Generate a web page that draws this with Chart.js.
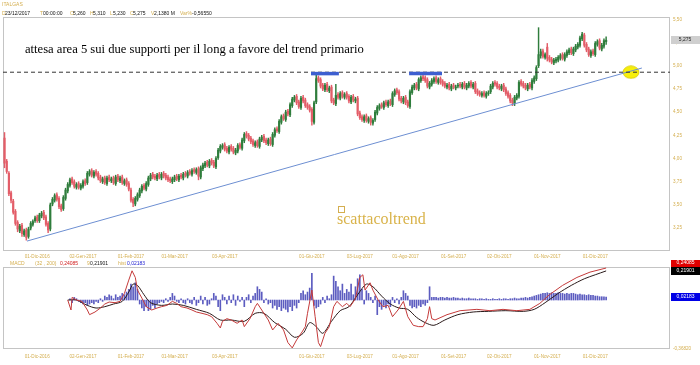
<!DOCTYPE html>
<html><head><meta charset="utf-8">
<script src="https://cdn.jsdelivr.net/npm/chart.js@4"></script>
<style>
body{margin:0;background:#fff;}
#wrap{position:relative;width:700px;height:365px;overflow:hidden;background:#fff;font-family:"Liberation Sans",Arial,sans-serif;}
canvas{position:absolute;left:0;}
.t{position:absolute;white-space:nowrap;line-height:1;font-size:5px;}
.g{color:#d4ae4f}
.k{color:#111}
</style></head><body>
<div id="wrap">
<canvas id="pc" width="700" height="265" style="top:0"></canvas>
<canvas id="mc" width="700" height="105" style="top:260px"></canvas>
<div class="t g" style="left:2px;top:2px;">ITALGAS</div>
<div class="t g" style="left:2px;top:11px;">D</div><div class="t k" style="left:5px;top:11px;">23/12/2017</div>
<div class="t g" style="left:40px;top:11px;">T</div><div class="t k" style="left:43px;top:11px;">00:00:00</div>
<div class="t g" style="left:70px;top:11px;">O</div><div class="t k" style="left:73px;top:11px;">5,260</div>
<div class="t g" style="left:90px;top:11px;">H</div><div class="t k" style="left:93px;top:11px;">5,310</div>
<div class="t g" style="left:110px;top:11px;">L</div><div class="t k" style="left:113px;top:11px;">5,230</div>
<div class="t g" style="left:130px;top:11px;">C</div><div class="t k" style="left:133px;top:11px;">5,275</div>
<div class="t g" style="left:151px;top:11px;">V</div><div class="t k" style="left:154px;top:11px;">2,1380 M</div>
<div class="t g" style="left:180px;top:11px;">Var%</div><div class="t k" style="left:192px;top:11px;">-0,56550</div>
<div class="t g" style="left:10px;top:261px;">MACD</div>
<div class="t g" style="left:35px;top:261px;">(32 , 200)</div>
<div class="t" style="left:60px;top:261px;color:#d01818">0,24085</div>
<div class="t g" style="left:87px;top:261px;">9</div>
<div class="t k" style="left:90px;top:261px;">0,21901</div>
<div class="t g" style="left:118px;top:261px;">hist</div>
<div class="t" style="left:127px;top:261px;color:#1a1ad0">0,02183</div>
<div class="t" style="left:25px;top:43px;font-family:'Liberation Serif','Times New Roman',serif;font-size:12.6px;color:#000">attesa area 5 sui due supporti per il long a favore del trend primario</div>
<div style="position:absolute;left:338px;top:206px;width:5px;height:5px;border:1px solid #d4ae4f;"></div>
<div class="t" style="left:337px;top:211px;font-family:'Liberation Serif','Times New Roman',serif;font-size:16px;color:#d9b34a">scattacoltrend</div>
</div>
<script>
const tickIdx = [15,36,58,78,101,141,163,184,206,227,249,271];
const tickLabels = ["01-Dic-2016","02-Gen-2017","01-Feb-2017","01-Mar-2017","03-Apr-2017","01-Giu-2017","03-Lug-2017","01-Ago-2017","01-Set-2017","02-Ott-2017","01-Nov-2017","01-Dic-2017"];
const priceTicks = [3.25,3.50,3.75,4.00,4.25,4.50,4.75,5.00,5.25,5.50];

const opens = [4.22,3.97,3.84,3.63,3.54,3.43,3.31,3.22,3.28,3.18,
3.23,3.16,3.25,3.29,3.33,3.37,3.33,3.38,3.42,3.37,
3.30,3.24,3.51,3.55,3.61,3.57,3.49,3.46,3.57,3.65,
3.71,3.78,3.75,3.69,3.73,3.68,3.70,3.76,3.74,3.83,
3.87,3.81,3.86,3.84,3.80,3.75,3.79,3.73,3.80,3.76,
3.79,3.73,3.81,3.76,3.80,3.73,3.77,3.73,3.66,3.56,
3.51,3.56,3.60,3.65,3.71,3.67,3.72,3.78,3.83,3.81,
3.78,3.83,3.79,3.84,3.82,3.80,3.78,3.75,3.77,3.81,
3.77,3.82,3.79,3.84,3.81,3.86,3.83,3.88,3.85,3.89,
3.80,3.89,3.92,3.96,3.92,3.98,3.96,3.91,4.01,4.08,
4.12,4.15,4.11,4.07,4.13,4.11,4.06,4.08,4.15,4.11,
4.19,4.27,4.25,4.22,4.19,4.14,4.18,4.13,4.20,4.24,
4.20,4.16,4.21,4.15,4.25,4.32,4.29,4.39,4.46,4.42,
4.51,4.47,4.57,4.63,4.67,4.61,4.55,4.66,4.63,4.58,
4.56,4.53,4.39,4.61,4.87,4.85,4.79,4.74,4.80,4.73,
4.77,4.63,4.59,4.69,4.65,4.71,4.66,4.70,4.67,4.61,
4.67,4.62,4.65,4.49,4.45,4.41,4.46,4.40,4.44,4.38,
4.42,4.49,4.54,4.58,4.55,4.61,4.57,4.62,4.58,4.69,
4.74,4.72,4.65,4.61,4.66,4.61,4.56,4.71,4.76,4.80,
4.75,4.84,4.88,4.87,4.85,4.77,4.80,4.83,4.87,4.82,
4.86,4.83,4.81,4.77,4.80,4.75,4.79,4.76,4.78,4.80,
4.77,4.81,4.76,4.78,4.82,4.77,4.81,4.73,4.71,4.68,
4.71,4.67,4.70,4.72,4.77,4.82,4.81,4.78,4.75,4.79,
4.75,4.71,4.68,4.63,4.59,4.65,4.67,4.83,4.81,4.79,
4.75,4.80,4.76,4.83,4.86,5.00,5.11,5.16,5.09,5.20,
5.09,5.07,5.03,5.05,5.06,5.08,5.12,5.07,5.11,5.14,
5.18,5.13,5.17,5.20,5.22,5.29,5.33,5.23,5.18,5.11,
5.16,5.12,5.23,5.27,5.18,5.21,5.26];

const highs = [4.28,3.99,3.86,3.65,3.56,3.45,3.33,3.29,3.30,3.24,
3.25,3.26,3.32,3.34,3.38,3.39,3.41,3.43,3.44,3.39,
3.32,3.52,3.58,3.62,3.63,3.59,3.51,3.60,3.68,3.74,
3.79,3.80,3.77,3.74,3.75,3.73,3.77,3.78,3.86,3.88,
3.89,3.87,3.88,3.86,3.82,3.80,3.81,3.81,3.82,3.80,
3.81,3.82,3.83,3.81,3.82,3.78,3.79,3.75,3.68,3.58,
3.59,3.63,3.68,3.72,3.73,3.75,3.81,3.84,3.85,3.83,
3.84,3.85,3.85,3.86,3.84,3.82,3.80,3.80,3.82,3.83,
3.83,3.84,3.85,3.86,3.87,3.88,3.89,3.90,3.90,3.91,
3.92,3.95,3.97,3.98,3.99,4.00,3.98,4.02,4.11,4.15,
4.16,4.17,4.13,4.14,4.15,4.13,4.11,4.16,4.17,4.22,
4.28,4.29,4.27,4.24,4.21,4.19,4.20,4.23,4.25,4.26,
4.22,4.22,4.23,4.28,4.33,4.34,4.42,4.47,4.48,4.52,
4.53,4.60,4.66,4.68,4.69,4.63,4.67,4.68,4.65,4.60,
4.58,4.55,4.62,4.92,4.89,4.87,4.81,4.81,4.82,4.78,
4.79,4.65,4.80,4.71,4.72,4.73,4.71,4.72,4.69,4.68,
4.69,4.66,4.67,4.51,4.47,4.47,4.48,4.45,4.46,4.43,
4.52,4.57,4.59,4.60,4.62,4.63,4.63,4.64,4.72,4.75,
4.76,4.74,4.67,4.67,4.68,4.63,4.74,4.79,4.81,4.82,
4.87,4.89,4.90,4.89,4.87,4.83,4.86,4.88,4.89,4.87,
4.88,4.85,4.83,4.81,4.82,4.80,4.81,4.79,4.81,4.82,
4.82,4.83,4.81,4.83,4.84,4.82,4.83,4.75,4.73,4.72,
4.73,4.72,4.73,4.80,4.83,4.84,4.83,4.80,4.80,4.81,
4.77,4.73,4.70,4.65,4.68,4.70,4.84,4.85,4.83,4.81,
4.81,4.82,4.86,4.89,5.00,5.41,5.18,5.18,5.14,5.24,
5.11,5.09,5.08,5.09,5.11,5.13,5.14,5.14,5.17,5.19,
5.20,5.20,5.23,5.25,5.32,5.36,5.35,5.25,5.20,5.17,
5.18,5.26,5.28,5.29,5.24,5.29,5.31];

const lows = [3.90,3.84,3.60,3.52,3.40,3.28,3.21,3.20,3.16,3.16,
3.12,3.14,3.23,3.27,3.31,3.31,3.31,3.36,3.34,3.27,
3.20,3.22,3.49,3.53,3.54,3.46,3.43,3.44,3.55,3.63,
3.69,3.72,3.68,3.67,3.67,3.66,3.68,3.71,3.72,3.81,
3.80,3.79,3.81,3.77,3.74,3.73,3.72,3.71,3.75,3.74,
3.72,3.71,3.75,3.74,3.72,3.71,3.70,3.65,3.53,3.48,
3.49,3.54,3.58,3.63,3.66,3.65,3.70,3.76,3.78,3.77,
3.76,3.78,3.77,3.79,3.77,3.75,3.74,3.73,3.75,3.76,
3.75,3.78,3.77,3.80,3.79,3.82,3.81,3.84,3.83,3.77,
3.78,3.87,3.90,3.91,3.90,3.93,3.90,3.89,3.99,4.06,
4.10,4.08,4.06,4.05,4.08,4.05,4.04,4.06,4.10,4.09,
4.17,4.22,4.19,4.16,4.13,4.12,4.12,4.11,4.18,4.17,
4.15,4.14,4.14,4.13,4.23,4.28,4.27,4.37,4.41,4.40,
4.46,4.45,4.55,4.61,4.58,4.54,4.53,4.60,4.55,4.53,
4.50,4.36,4.37,4.59,4.82,4.76,4.73,4.72,4.72,4.71,
4.60,4.58,4.57,4.64,4.63,4.65,4.64,4.64,4.60,4.59,
4.61,4.60,4.46,4.42,4.40,4.39,4.39,4.38,4.36,4.36,
4.40,4.47,4.52,4.54,4.53,4.56,4.55,4.57,4.56,4.67,
4.69,4.62,4.60,4.59,4.58,4.55,4.54,4.69,4.74,4.74,
4.73,4.82,4.84,4.82,4.76,4.75,4.78,4.81,4.81,4.80,
4.80,4.78,4.76,4.75,4.74,4.73,4.75,4.74,4.76,4.76,
4.75,4.75,4.74,4.76,4.76,4.75,4.70,4.68,4.67,4.66,
4.66,4.65,4.68,4.70,4.75,4.78,4.75,4.74,4.73,4.72,
4.68,4.65,4.60,4.57,4.57,4.63,4.65,4.78,4.76,4.74,
4.73,4.75,4.74,4.81,4.84,4.98,5.08,5.08,5.07,5.05,
5.04,5.02,5.01,5.03,5.04,5.06,5.06,5.05,5.09,5.12,
5.12,5.11,5.15,5.18,5.20,5.27,5.20,5.15,5.10,5.09,
5.11,5.10,5.21,5.17,5.16,5.19,5.23];

const closes = [3.95,3.86,3.62,3.55,3.42,3.30,3.24,3.27,3.19,3.22,
3.15,3.24,3.30,3.32,3.36,3.33,3.39,3.41,3.36,3.29,
3.23,3.50,3.56,3.60,3.56,3.48,3.45,3.58,3.66,3.72,
3.77,3.74,3.70,3.72,3.69,3.71,3.75,3.73,3.84,3.86,
3.82,3.85,3.83,3.79,3.76,3.78,3.74,3.79,3.77,3.78,
3.74,3.80,3.77,3.79,3.74,3.76,3.72,3.67,3.55,3.52,
3.57,3.61,3.66,3.70,3.68,3.73,3.79,3.82,3.80,3.79,
3.82,3.80,3.83,3.81,3.79,3.77,3.76,3.78,3.80,3.78,
3.81,3.80,3.83,3.82,3.85,3.84,3.87,3.86,3.88,3.81,
3.90,3.93,3.95,3.93,3.97,3.95,3.92,4.00,4.09,4.13,
4.14,4.10,4.08,4.12,4.10,4.07,4.09,4.14,4.12,4.20,
4.26,4.24,4.21,4.18,4.15,4.17,4.14,4.21,4.23,4.19,
4.17,4.20,4.16,4.26,4.31,4.30,4.40,4.45,4.43,4.50,
4.48,4.58,4.64,4.66,4.60,4.56,4.65,4.62,4.57,4.55,
4.52,4.40,4.60,4.86,4.84,4.78,4.75,4.79,4.74,4.76,
4.62,4.60,4.68,4.66,4.70,4.67,4.69,4.66,4.62,4.66,
4.63,4.64,4.48,4.44,4.42,4.45,4.41,4.43,4.39,4.41,
4.50,4.55,4.57,4.56,4.60,4.58,4.61,4.59,4.70,4.73,
4.71,4.64,4.62,4.65,4.60,4.57,4.72,4.77,4.79,4.76,
4.85,4.87,4.86,4.84,4.78,4.81,4.84,4.86,4.83,4.85,
4.82,4.80,4.78,4.79,4.76,4.78,4.77,4.77,4.79,4.78,
4.80,4.77,4.79,4.81,4.78,4.80,4.72,4.70,4.69,4.70,
4.68,4.70,4.71,4.78,4.81,4.80,4.77,4.76,4.78,4.74,
4.70,4.67,4.62,4.60,4.66,4.68,4.82,4.80,4.78,4.76,
4.79,4.77,4.84,4.87,4.98,5.12,5.15,5.10,5.12,5.08,
5.06,5.04,5.06,5.07,5.09,5.11,5.08,5.12,5.15,5.17,
5.14,5.18,5.21,5.23,5.30,5.34,5.22,5.17,5.12,5.15,
5.13,5.24,5.26,5.19,5.22,5.27,5.275];

// trend / support annotations (index, price)
const trendX = [10.3, 292.4];
const trendY = [3.11, 4.975];
const supportLevel = 4.93;
const zoneA = [140.6, 153.4];
const zoneB = [185.6, 200.7];
const zoneLevel = 4.915;
const targetPoint = [287.4, 4.93];

// MACD panel
const histStart = 30;
const histVals = [0.01,-0.02,0.02,0.01,-0.01,
-0.02,-0.03,-0.02,-0.04,-0.03,-0.02,-0.03,-0.01,-0.02,0.01,-0.01,
0.03,0.02,0.04,0.03,0.01,0.04,0.02,
0.03,0.05,0.04,0.06,0.08,
0.12,0.10,0.13,0.08,
-0.03,-0.06,-0.08,-0.05,-0.08,-0.07,-0.04,-0.06,-0.03,
-0.02,-0.01,-0.02,0.01,-0.01,0.02,
0.05,0.03,
-0.01,-0.02,0.01,-0.02,-0.03,0.01,-0.02,-0.03,0.02,-0.04,-0.02,0.03,-0.03,0.02,-0.04,-0.03,0.01,
0.05,0.03,-0.05,-0.08,0.04,
0.02,-0.03,0.03,-0.02,0.04,-0.04,0.03,-0.01,0.02,-0.05,0.02,0.04,-0.02,0.03,0.05,
0.10,0.08,0.06,
-0.02,0.01,-0.03,-0.02,
-0.06,-0.04,-0.07,-0.05,-0.08,-0.06,-0.07,-0.09,-0.05,-0.08,-0.04,-0.06,-0.02,
0.05,0.07,0.04,0.06,0.09,
0.20,
-0.04,-0.06,-0.05,-0.03,
0.02,-0.02,0.03,0.01,0.04,
0.18,0.14,
0.10,0.07,0.12,0.05,0.08,
0.06,0.12,0.04,0.10,0.16,0.19,0.08,-0.03,
0.07,0.05,0.02,-0.02,0.03,
-0.11,-0.05,-0.07,-0.04,-0.06,-0.03,-0.05,
0.02,-0.02,0.01,-0.03,0.02,
0.07,0.05,0.03,
-0.04,-0.06,-0.05,-0.06,-0.04,-0.05,-0.03,-0.04,-0.02,
0.10,
0.02,0.02,0.02,0.015,0.02,0.02,0.015,0.02,0.015,0.015,
0.02,0.015,0.015,0.01,0.015,0.01,0.01,0.015,0.01,0.01,
0.01,0.005,0.01,0.01,0.005,0.01,0.005,0.005,0.01,0.005,
0.005,0.01,0.005,0.01,0.01,0.005,0.01,0.01,0.015,0.01,
0.01,0.015,0.015,0.02,0.015,0.02,0.025,0.03,0.035,0.04,
0.045,0.05,0.05,0.055,0.05,0.055,0.05,0.05,0.055,0.05,
0.05,0.045,0.05,0.045,0.05,0.05,0.045,0.04,0.045,0.04,
0.04,0.035,0.04,0.035,0.035,0.03,0.03,0.025,0.025,0.025,0.022];

const macdX = [29,30.5,31,33,35.5,38,39,41.5,44,46,48,50.7,53,55,57,58.5,60,61,63,65,67.5,70,72,74.5,77,79,81,83.7,86,88,90.6,93,95,97.5,99,100,102,104,106.7,109,110,112.6,115,116,118.6,121,123,125.5,128,130,132,134,136.5,138,139,141,142.5,144,145,147,149,151,152.5,155,157,158.5,161,163,164.4,165.4,167.7,169,171.4,173.6,176,178,180.5,183,185,187.5,190,192,194,195,196,197.5,203,209,216.7,222.7,228.7,235,241,245.6,250,256,262.6,268.6,276];
const macdY = [0,-0.075,0.02,0,-0.01,-0.075,-0.11,-0.09,-0.06,-0.03,-0.015,-0.02,-0.01,0.05,0.15,0.22,0.17,0.075,0.015,-0.05,-0.075,-0.06,-0.05,-0.04,-0.01,-0.025,-0.05,-0.06,-0.075,-0.09,-0.1,-0.11,-0.125,-0.175,-0.21,-0.16,-0.14,-0.15,-0.175,-0.15,-0.2,-0.14,-0.05,-0.025,-0.09,-0.15,-0.225,-0.175,-0.225,-0.32,-0.36,-0.3,-0.24,-0.2,-0.1,0.075,-0.125,-0.32,-0.35,-0.25,-0.2,-0.05,-0.01,-0.05,-0.025,-0.05,0.01,0.17,0.19,0.075,0.13,0.075,0,-0.05,-0.04,-0.125,-0.075,-0.01,-0.125,-0.19,-0.2,-0.2,-0.14,-0.05,-0.14,-0.15,-0.11,-0.08,-0.07,-0.08,-0.07,-0.08,-0.07,-0.025,0.04,0.11,0.17,0.21,0.24085];
const sigX = [29,33,38,42,46,50,54,57,59,61,64,67,72,77,82,88,94,99,104,110,115,119,124,129,133,137,140,143,146,150,154,158,162,166,169,173,177,181,185,189,193,197,202,208,215,222,230,238,243,248,254,260,266,271,276];
const sigY = [0,0,-0.04,-0.06,-0.05,-0.03,-0.01,0.06,0.12,0.11,0.04,-0.02,-0.04,-0.03,-0.04,-0.07,-0.1,-0.15,-0.15,-0.16,-0.1,-0.1,-0.17,-0.22,-0.28,-0.25,-0.17,-0.2,-0.25,-0.16,-0.08,-0.05,0.04,0.12,0.1,0.03,-0.03,-0.06,-0.07,-0.13,-0.17,-0.19,-0.15,-0.11,-0.09,-0.085,-0.08,-0.085,-0.07,-0.02,0.05,0.11,0.16,0.19,0.21901];
const macdMin = -0.3682, macdMax = 0.2485;
const lastMacd = 0.24085, lastSig = 0.21901, lastHist = 0.02183;

const GOLD = '#d4ae4f', UP = '#2f7d3c', DN = '#e35d68';
const X_MIN = -0.7, X_MAX = 305.3;

const fmt2 = v => v.toFixed(2).replace('.', ',');

const frame = {id:'frame', beforeDatasetsDraw(c){
  const {ctx, chartArea:a} = c; ctx.save(); ctx.strokeStyle='#c4c4c4'; ctx.lineWidth=1;
  ctx.strokeRect(Math.round(a.left)+0.5, Math.round(a.top)+0.5, Math.round(a.right-a.left)-1, Math.round(a.bottom-a.top)-1);
  ctx.restore();}};

function xScale(h, pad){
  return {type:'linear', offset:false, min:X_MIN, max:X_MAX, grid:{display:false, drawTicks:false}, border:{display:false},
    afterBuildTicks:s=>{s.ticks = tickIdx.map(v=>({value:v}));},
    afterFit:s=>{s.height=h; s.paddingLeft=0; s.paddingRight=0;},
    ticks:{autoSkip:false, maxRotation:0, padding:pad, color:GOLD, font:{size:4.6, family:'Liberation Sans'},
      callback:v=>{const k=tickIdx.indexOf(v); return k>=0?tickLabels[k]:'';}}};
}

const ell = document.createElement('canvas'); ell.width=18; ell.height=14;
{const e=ell.getContext('2d'); e.fillStyle='#f7ef0a'; e.strokeStyle='#d6c800'; e.lineWidth=0.8; e.beginPath(); e.ellipse(9,7,8,6.2,0,0,Math.PI*2); e.fill(); e.stroke();}

const priceBox = {id:'pbox', afterDraw(c){
  const y = c.scales.y.getPixelForValue(closes[closes.length-1]); const ctx=c.ctx; ctx.save();
  ctx.fillStyle='#cfcfcf'; ctx.fillRect(671, Math.round(y)-4, 29, 8);
  ctx.fillStyle='#222'; ctx.font='5px "Liberation Sans"'; ctx.textBaseline='middle'; ctx.textAlign='center';
  ctx.fillText(closes[closes.length-1].toFixed(3).replace('.',','), 685, Math.round(y)); ctx.restore();}};

const colorOf = ctx => closes[ctx.dataIndex] >= opens[ctx.dataIndex] ? UP : DN;

new Chart(document.getElementById('pc'), {
  data:{datasets:[
    {type:'line', data:[{x:zoneA[0],y:zoneLevel},{x:zoneA[1],y:zoneLevel}], borderColor:'#3d5fd0', borderWidth:3.5, pointRadius:0},
    {type:'line', data:[{x:zoneB[0],y:zoneLevel},{x:zoneB[1],y:zoneLevel}], borderColor:'#3d5fd0', borderWidth:3.5, pointRadius:0},
    {type:'line', data:[{x:X_MIN,y:supportLevel},{x:X_MAX,y:supportLevel}], borderColor:'#333', borderWidth:1, borderDash:[4,3], pointRadius:0},
    {type:'line', data:trendX.map((x,i)=>({x, y:trendY[i]})), borderColor:'#6d8fd2', borderWidth:1, pointRadius:0},
    {type:'line', showLine:false, data:[{x:targetPoint[0], y:targetPoint[1]}], pointStyle:ell, pointRadius:8},
    {type:'bar', data:closes.map((c,i)=>({x:i, y:[opens[i], c]})), backgroundColor:colorOf, barThickness:1.5, grouped:false},
    {type:'bar', data:closes.map((c,i)=>({x:i, y:[lows[i], highs[i]]})), backgroundColor:colorOf, barThickness:0.8, grouped:false}
  ]},
  options:{responsive:false, animation:false, devicePixelRatio:1,
    layout:{autoPadding:false, padding:{left:3, top:17, right:0, bottom:0}},
    plugins:{legend:{display:false}, tooltip:{enabled:false}},
    scales:{
      x:xScale(14, 3),
      y:{position:'right', min:3.003, max:5.525, grid:{display:false, drawTicks:false}, border:{display:false},
        afterBuildTicks:s=>{s.ticks = priceTicks.map(v=>({value:v}));}, afterFit:s=>{s.width=30; s.paddingTop=0; s.paddingBottom=0;},
        ticks:{padding:3, color:GOLD, font:{size:4.6, family:'Liberation Sans'}, callback:v=>fmt2(v)}}
    }},
  plugins:[frame, priceBox]
});

const macdBoxes = {id:'mbox', afterDraw(c){
  const s=c.scales.y, ctx=c.ctx; ctx.save();
  const yb = Math.round(s.getPixelForValue(lastSig));
  const yr = Math.min(Math.round(s.getPixelForValue(lastMacd)), yb-8);
  const yh = Math.round(s.getPixelForValue(lastHist));
  ctx.font='5px "Liberation Sans"'; ctx.textBaseline='middle'; ctx.textAlign='center';
  [[yr,'#e00000',lastMacd],[yb,'#000000',lastSig],[yh,'#0000e6',lastHist]].forEach(([y,col,v])=>{
    ctx.fillStyle=col; ctx.fillRect(671, y-4, 29, 8);
    ctx.fillStyle='#fff'; ctx.fillText(v.toFixed(5).replace('.',','), 685.5, y);
  });
  ctx.restore();}};

new Chart(document.getElementById('mc'), {
  data:{datasets:[
    {type:'line', data:macdX.map((x,i)=>({x, y:macdY[i]})), borderColor:'#c43a3a', borderWidth:1, pointRadius:0, tension:0},
    {type:'line', data:sigX.map((x,i)=>({x, y:sigY[i]})), borderColor:'#2a1a1a', borderWidth:1, pointRadius:0, tension:0.3},
    {type:'bar', data:histVals.map((v,k)=>({x:histStart+k, y:v})), backgroundColor:'#5c5cc0', barThickness:1, grouped:false}
  ]},
  options:{responsive:false, animation:false, devicePixelRatio:1,
    layout:{autoPadding:false, padding:{left:3, top:7, right:0, bottom:0}},
    plugins:{legend:{display:false}, tooltip:{enabled:false}},
    scales:{
      x:xScale(16, 5),
      y:{position:'right', min:macdMin, max:macdMax, grid:{display:false, drawTicks:false}, border:{display:false},
        afterBuildTicks:s=>{s.ticks=[{value:macdMin}];}, afterFit:s=>{s.width=30; s.paddingTop=0; s.paddingBottom=0;},
        ticks:{padding:3, color:GOLD, font:{size:4.6, family:'Liberation Sans'}, callback:v=>v.toFixed(5).replace('.',',')}}
    }},
  plugins:[frame, macdBoxes]
});
</script>
</body></html>
